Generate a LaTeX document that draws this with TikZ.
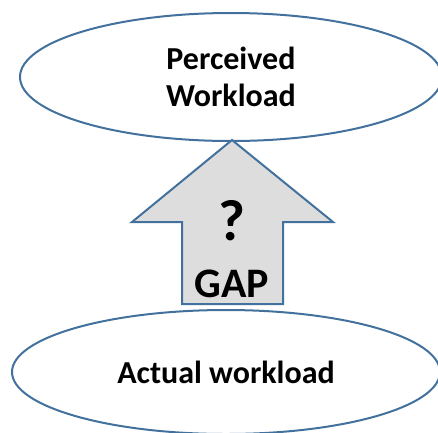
\documentclass[tikz,border=0pt]{standalone}
\usepackage{fontspec}
\setmainfont{Carlito}
\usetikzlibrary{
    shapes.geometric, % Ellipse nodes.
    positioning,
}

\definecolor{outline}{RGB}{65,113,156}
\definecolor{gapgrey}{RGB}{221,221,221}

\begin{document}
\begin{tikzpicture}[%
        x = 1pt,
        y = -1pt,
        line width = 2pt,
        line join = miter,
        workload/.style = {%
            ellipse,
            draw = outline,
            align = center,
            font = \bfseries\fontsize{32}{37}\selectfont
        }
    ]

        \useasboundingbox (0, 0) rectangle (438, 432);

        % Nodes for the two workloads.
        \node[workload, minimum width = 422pt, minimum height = 128pt]
            (perceived) at (231, 77) {Perceived\\Workload};
        \node[workload, minimum width = 428pt, minimum height = 124pt]
            (actual) at (226, 372) {Actual workload};

        % Corners of the block arrow.
        \coordinate (tip) at (232, 140);
        \coordinate (headL) at (132, 222);
        \coordinate (headR) at (333, 222);
        \coordinate (shaftL) at (182, 222);
        \coordinate (shaftR) at (283, 222);
        \coordinate (baseL) at (182, 304);
        \coordinate (baseR) at (283, 304);

        % Draw in the arrow between them.
        \draw[draw = outline, fill = gapgrey]
            (tip) -- (headR) -- (shaftR) -- (baseR)
            -- (baseL) -- (shaftL) -- (headL) -- cycle;

        % Label the arrow.
        \node[font = \bfseries\fontsize{58}{58}\selectfont] (question) at (232, 221) {?};
        \node[font = \bfseries\fontsize{42}{42}\selectfont] (gap) at (232, 284) {GAP};
    \end{tikzpicture}
\end{document}
